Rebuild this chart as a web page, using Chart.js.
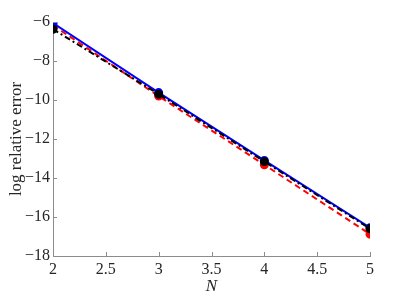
<!DOCTYPE html>
<html>
<head>
<meta charset="utf-8">
<script src="https://cdn.jsdelivr.net/npm/chart.js@4"></script>
<style>
  html, body { margin: 0; padding: 0; background: #fff; }
  #wrap { width: 409px; height: 307px; }
</style>
</head>
<body>
<div id="wrap"><canvas id="chart" width="409" height="307"></canvas></div>
<script>
// values
const nValues = [2, 3, 4, 5];
const blueErr = [-6.05, -9.62, -13.1, -16.55];
const redErr = [-6.17, -9.8, -13.32, -16.88];
const blackErr = [-6.37, -9.7, -13.16, -16.6];
const xTicks = [2, 2.5, 3, 3.5, 4, 4.5, 5];
const yTicks = [-18, -16, -14, -12, -10, -8, -6];

const toPts = ys => nValues.map((n, i) => ({ x: n, y: ys[i] }));
const serif = "'Liberation Serif', 'DejaVu Serif', serif";
Chart.defaults.font.family = serif;
Chart.defaults.font.size = 16;

// MATLAB-ish inward tick marks
const innerTicks = {
  id: 'innerTicks',
  afterDraw(chart) {
    const { ctx, scales: { x, y }, chartArea: a } = chart;
    ctx.save();
    ctx.strokeStyle = '#8c8c8c';
    ctx.lineWidth = 1;
    ctx.beginPath();
    xTicks.forEach(v => {
      const px = Math.round(x.getPixelForValue(v)) + 0.5;
      ctx.moveTo(px, a.bottom);
      ctx.lineTo(px, a.bottom - 4);
    });
    yTicks.forEach(v => {
      const py = Math.round(y.getPixelForValue(v)) + 0.5;
      ctx.moveTo(a.left, py);
      ctx.lineTo(a.left + 4, py);
    });
    ctx.stroke();
    ctx.restore();
  }
};

new Chart(document.getElementById('chart'), {
  type: 'line',
  data: {
    datasets: [
      {
        data: toPts(blueErr),
        borderColor: '#0000ff', backgroundColor: '#0000ff',
        borderWidth: 2, pointRadius: 3.5, order: 1
      },
      {
        data: toPts(redErr),
        borderColor: '#ff0000', backgroundColor: '#ff0000',
        borderWidth: 2, borderDash: [6, 4], pointRadius: 3.5, order: 2
      },
      {
        data: toPts(blackErr),
        borderColor: '#000000', backgroundColor: '#000000',
        borderWidth: 2, borderDash: [6, 3, 2, 3], pointRadius: 3.5, order: 0
      }
    ]
  },
  options: {
    responsive: false,
    animation: false,
    layout: { padding: { top: 22, right: 39, left: 6, bottom: 10 } },
    plugins: { legend: { display: false }, tooltip: { enabled: false } },
    elements: { line: { tension: 0 }, point: { borderWidth: 0 } },
    scales: {
      x: {
        type: 'linear', min: 2, max: 5,
        afterBuildTicks: s => { s.ticks = xTicks.map(v => ({ value: v })); },
        afterFit: s => { s.height = 41; },
        grid: { display: false, drawTicks: false },
        border: { display: true, color: '#8c8c8c', width: 1 },
        ticks: {
          padding: 4, color: '#262626', maxRotation: 0,
          font: { family: serif, size: 16 },
          callback: v => String(v)
        },
        title: {
          display: true, text: 'N', color: '#262626', padding: 0,
          font: { family: serif, size: 17, style: 'italic' }
        }
      },
      y: {
        type: 'linear', min: -18, max: -6,
        afterBuildTicks: s => { s.ticks = yTicks.map(v => ({ value: v })); },
        afterFit: s => { s.width = 47; },
        grid: { display: false, drawTicks: false },
        border: { display: true, color: '#8c8c8c', width: 1 },
        ticks: {
          padding: 3, color: '#262626',
          font: { family: serif, size: 16 },
          callback: v => String(v).replace('-', '\u2212')
        },
        title: {
          display: true, text: 'log relative error', color: '#262626', padding: 0,
          font: { family: serif, size: 17 }
        }
      }
    }
  },
  plugins: [innerTicks]
});
</script>
</body>
</html>
